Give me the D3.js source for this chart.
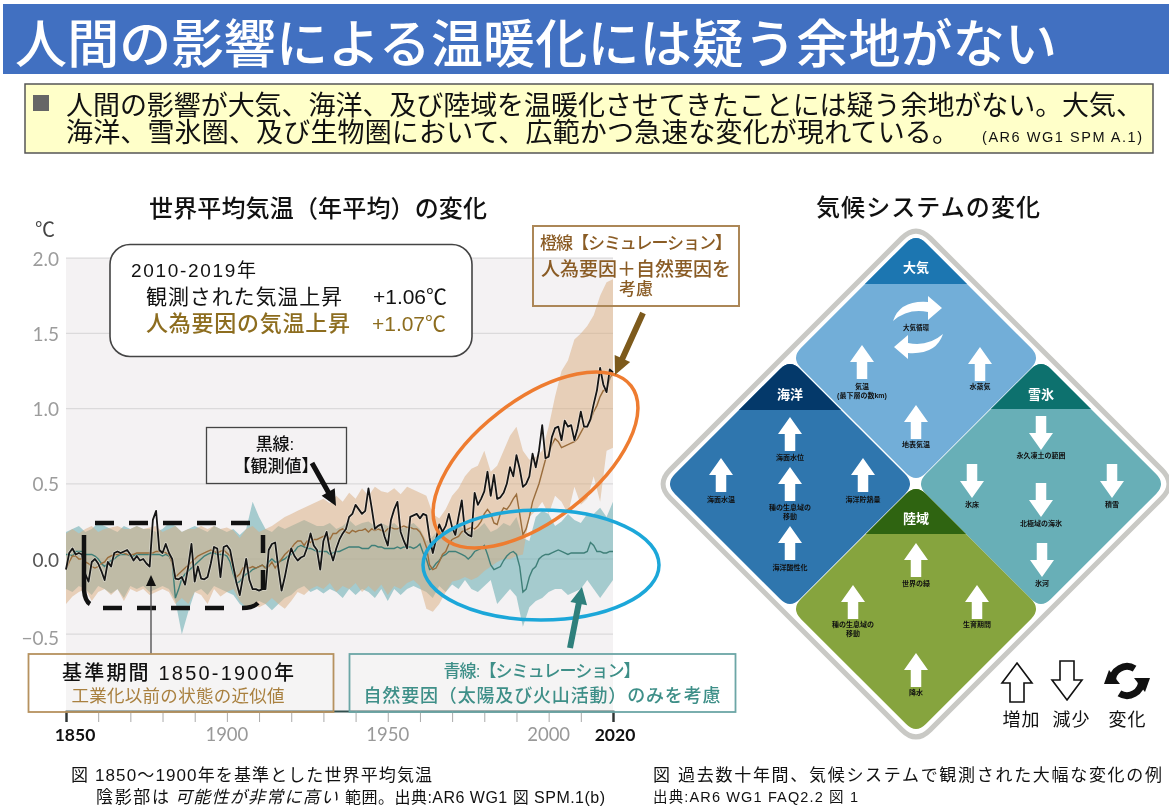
<!DOCTYPE html>
<html lang="ja"><head><meta charset="utf-8">
<script src="https://cdnjs.cloudflare.com/ajax/libs/d3/7.8.5/d3.min.js"></script>
<style>
html,body{margin:0;padding:0;background:#fff;overflow:hidden}
svg{display:block;filter:blur(.35px)}
text{font-family:"Liberation Sans","Noto Sans CJK JP",sans-serif}
</style></head><body><svg id="c" width="1169" height="807"></svg>
<script>
// ---- data ----
const yTicks=[2.0,1.5,1.0,0.5,0.0,-0.5];
const xTicksLabelled=[1850,1900,1950,2000,2020];
const lineStartYear=1850, bandStartYear=1850, bandStep=2;
const observed=[
-.07,.04,.07,.03,.04,.03,-.10,-.15,-.02,0,
-.03,-.08,-.14,-.02,-.05,.04,.05,.04,.05,.06,
.03,-.01,.02,-.01,0,-.03,-.05,.26,.32,.06,
.04,.10,.04,0,-.13,-.135,-.12,-.17,-.05,.10,
-.15,-.05,-.13,-.135,-.12,-.03,.08,.07,-.12,.08,
.09,.06,-.05,-.16,-.24,-.12,0,-.14,-.20,-.20,
-.21,-.20,-.20,.06,.10,.11,-.06,-.21,-.12,-.01,
.07,.02,-.01,.01,.02,.08,.17,.09,.06,-.07,
.12,.18,.06,-.01,.07,.13,.17,.20,.28,.30,
.36,.33,.30,.32,.47,.34,.20,.22,.23,.15,
.09,.26,.33,.38,.18,.12,.07,.28,.29,.30,
.27,.30,.29,.14,.04,.13,.23,.18,.22,.30,
.21,.16,.28,.39,.18,.16,.15,.44,.36,.40,
.45,.58,.42,.56,.40,.41,.44,.50,.61,.55,
.69,.60,.48,.50,.55,.70,.61,.72,.89,.67,
.68,.81,.87,.88,.79,.92,.88,.89,.79,.87,
.98,.88,.88,.93,1.03,1.12,1.27,1.16,1.11,1.26,
1.24];
const humanNatural=[
-.07,-.02,.02,.02,0,0,-.02,-.03,-.05,-.06,
-.05,-.03,-.02,.01,.02,.03,.03,.04,.04,.03,
.03,.03,.04,.04,.04,.04,.04,.04,.05,.05,
.05,.04,.03,-.03,-.12,-.1,-.08,-.06,-.04,-.02,
0,.02,.03,.04,.05,.06,.05,.04,.05,.06,
.04,.02,-.06,-.12,-.1,-.06,-.05,-.06,-.05,-.06,
-.05,-.04,-.06,-.05,-.02,-.06,-.03,0,.03,.05,
.07,.10,.12,.12,.09,.12,.11,.13,.13,.14,
.15,.16,.13,.17,.17,.19,.2,.18,.17,.19,
.18,.19,.19,.2,.18,.2,.19,.2,.19,.18,
.2,.21,.2,.2,.21,.22,.21,.21,.2,.2,
.18,.14,.08,-.04,-.07,-.06,-.02,.03,.05,.1,
.13,.14,.15,.18,.19,.2,.21,.2,.22,.25,
.3,.33,.3,.24,.23,.3,.34,.33,.36,.4,
.43,.3,.16,.2,.28,.38,.44,.5,.58,.66,
.7,.76,.8,.78,.74,.75,.76,.77,.78,.8,
.84,.88,.88,.92,.98,1.02,1.08,1.12,1.12,1.2,
1.24];
const naturalOnly=[
.03,.03,.02,.05,.05,.05,.03,.03,.03,.02,
0,-.03,-.05,-.03,-.01,0,.02,.03,.03,.03,
.02,.02,.03,.03,.03,.03,.03,.03,.03,.03,
.02,.03,.02,-.02,-.26,-.2,-.13,-.1,-.08,-.06,
-.04,-.02,0,.02,.03,.04,.04,.03,.03,.03,
.02,-.02,-.1,-.16,-.15,-.12,-.1,-.09,-.07,-.06,
-.05,-.04,-.06,-.02,0,-.02,-.02,-.01,0,.02,
.03,.05,.08,.09,.08,.07,.07,.06,.05,.05,
.05,.05,.03,.04,.05,.05,.06,.07,.08,.08,
.08,.08,.07,.07,.07,.09,.09,.08,.08,.07,
.07,.07,.07,.08,.07,.08,.08,.08,.07,.08,
.1,.04,0,-.07,-.06,-.03,-.01,.02,.03,.05,
.05,.05,.04,.03,.02,0,.02,.05,.06,.07,
.09,.03,-.04,-.07,-.06,-.05,-.01,.02,.04,.05,
.03,-.05,-.22,-.2,-.12,-.07,-.05,0,.02,.03,
.03,.04,.05,.06,.05,.04,.03,.04,.04,.04,
.04,.04,.05,.11,.09,.05,.05,.04,.04,.05,
.05];
const humanNaturalHigh=[
.17,.2,.17,.2,.22,.18,.2,.21,.22,.2,
.2,.22,.2,.21,.22,.18,.2,.22,.18,.2,
.2,.22,.2,.22,.2,.21,.19,.14,.2,.22,
.18,.2,.22,.25,.28,.3,.32,.34,.36,.38,
.4,.37,.42,.38,.44,.4,.47,.42,.48,.45,
.44,.47,.43,.48,.46,.44,.42,.3,.27,.33,
.42,.47,.55,.6,.62,.72,.58,.62,.72,.82,
.88,.72,.66,.68,.72,.88,1.08,1.25,1.32,1.46,
1.5,1.55,1.62,1.75,1.84,1.86];
const humanNaturalLow=[
-.3,-.25,-.22,-.2,-.28,-.22,-.2,-.24,-.2,-.28,
-.2,-.22,-.2,-.24,-.22,-.2,-.22,-.3,-.26,-.3,
-.22,-.24,-.3,-.2,-.25,-.22,-.2,-.28,-.32,-.3,
-.32,-.3,-.26,-.3,-.33,-.28,-.22,-.24,-.2,-.18,
-.2,-.16,-.22,-.18,-.2,-.16,-.22,-.18,-.22,-.17,
-.24,-.18,-.2,-.16,-.14,-.18,-.33,-.35,-.3,-.22,
-.15,-.14,-.12,-.14,-.12,-.08,-.05,-.02,0,0,
.02,.03,.28,.32,.38,.3,.42,.38,.3,.48,
.36,.4,.55,.38,.72,.74];
const naturalHigh=[
.18,.2,.22,.18,.2,.24,.22,.2,.18,.22,
.2,.22,.2,.2,.18,.2,.24,.22,.18,.2,
.22,.2,.18,.22,.2,.18,.2,.16,.2,.38,
.28,.2,.18,.22,.2,.22,.24,.26,.24,.22,
.22,.24,.2,.22,.26,.22,.24,.25,.22,.24,
.22,.24,.2,.22,.24,.2,.12,.15,.2,.18,
.2,.22,.2,.18,.2,.24,.18,.2,.24,.22,
.28,.14,.12,.28,.32,.3,.22,.25,.3,.26,
.24,.3,.3,.34,.28,.38];
const naturalLow=[
-.2,-.22,-.18,-.2,-.24,-.18,-.2,-.23,-.2,-.26,
-.18,-.2,-.18,-.22,-.2,-.18,-.2,-.28,-.5,-.35,
-.22,-.2,-.24,-.18,-.2,-.22,-.24,-.3,-.33,-.3,
-.28,-.3,-.34,-.3,-.26,-.24,-.2,-.18,-.22,-.2,
-.23,-.2,-.22,-.26,-.2,-.24,-.2,-.22,-.26,-.2,
-.28,-.2,-.24,-.2,-.18,-.2,-.22,-.26,-.18,-.22,
-.17,-.2,-.14,-.2,-.22,-.18,-.14,-.3,-.25,-.2,
-.25,-.45,-.32,-.28,-.26,-.22,-.2,-.2,-.24,-.22,
-.2,-.14,-.2,-.26,-.2,-.14];
const domains=["大気","海洋","雪氷","陸域"];
const atmosphereItems=["大気循環","気温","水蒸気","地表気温"];
const oceanItems=["海面水位","海面水温","海洋貯熱量","種の生息域の移動","海洋酸性化"];
const cryosphereItems=["永久凍土の範囲","氷床","積雪","北極域の海氷","氷河"];
const landItems=["世界の緑","種の生息域の移動","生育期間","降水"];

// ---- helpers ----
const svg=d3.select("#c");
const x=d3.scaleLinear().domain([1850,2020]).range([66,613]);
const y=d3.scaleLinear().domain([0,1]).range([559,408.6]);
function txt(s,px,py,size,o={}){
  const t=svg.append("text").attr("x",px).attr("y",py).attr("font-size",size)
   .attr("fill",o.fill||"#111").attr("text-anchor",o.anchor||"start")
   .attr("dominant-baseline","central").text(s);
  if(o.weight)t.attr("font-weight",o.weight);
  if(o.len)t.attr("textLength",o.len).attr("lengthAdjust","spacing");
  if(o.family)t.style("font-family",o.family);
  return t;
}
function fatArrow(x1,y1,x2,y2,w,hw,hl,fill,sel=svg){
  const a=Math.atan2(y2-y1,x2-x1),L=Math.hypot(x2-x1,y2-y1);
  const pts=[[0,-w/2],[L-hl,-w/2],[L-hl,-hw/2],[L,0],[L-hl,hw/2],[L-hl,w/2],[0,w/2]];
  return sel.append("polygon").attr("transform",`translate(${x1},${y1}) rotate(${a*180/Math.PI})`)
   .attr("points",pts.join(" ")).attr("fill",fill);
}
function roundDiamond(cx,cy,R,d){
  const k=d/Math.SQRT2;
  return `M${cx-k},${cy-R+k}Q${cx},${cy-R} ${cx+k},${cy-R+k}L${cx+R-k},${cy-k}Q${cx+R},${cy} ${cx+R-k},${cy+k}`+
   `L${cx+k},${cy+R-k}Q${cx},${cy+R} ${cx-k},${cy+R-k}L${cx-R+k},${cy+k}Q${cx-R},${cy} ${cx-R+k},${cy-k}Z`;
}

// ---- banner ----
svg.append("rect").attr("x",3).attr("y",4).attr("width",1166).attr("height",70).attr("fill","#4170c1");
txt("人間の影響による温暖化には疑う余地がない",15,45,52,{fill:"#fff",weight:500,len:1042});
svg.append("rect").attr("x",25).attr("y",84).attr("width",1128).attr("height",69)
 .attr("fill","#ffffc9").attr("stroke","#555").attr("stroke-width",1.5);
svg.append("rect").attr("x",33).attr("y",95).attr("width",16).attr("height",16).attr("fill","#666");
txt("人間の影響が大気、海洋、及び陸域を温暖化させてきたことには疑う余地がない。大気、",66,106,27,{len:1077});
txt("海洋、雪氷圏、及び生物圏において、広範かつ急速な変化が現れている。",66,133,27,{len:893});
txt("(AR6 WG1 SPM A.1)",982,137,14.5,{len:160});

// ---- chart titles ----
txt("世界平均気温（年平均）の変化",149,208,24,{len:338,weight:500});
txt("気候システムの変化",816,207,24,{len:224,weight:500});
txt("℃",35,230,20,{fill:"#444"});

// ---- chart ----
svg.append("rect").attr("x",x(1850)).attr("y",y(2)).attr("width",x(2020)-x(1850)).attr("height",711-y(2)).attr("fill","#f4f2f3");
svg.append("g").selectAll("line").data(yTicks).join("line")
 .attr("x1",x(1850)).attr("x2",x(2020)).attr("y1",y).attr("y2",y).attr("stroke","#dbdadb").attr("stroke-width",1.2);
svg.append("g").selectAll("text").data(yTicks).join("text")
 .attr("x",59).attr("y",d=>y(d)+(d<0?3:0)).attr("text-anchor","end").attr("dominant-baseline","central")
 .attr("font-size",19).attr("fill",d=>d===0?"#555":"#9c9c9c")
 .style("font-family","Lato,sans-serif").text(d=>d<0?"−"+Math.abs(d).toFixed(1):d.toFixed(1));

const bandYears=d3.range(humanNaturalHigh.length).map(i=>bandStartYear+i*bandStep);
const area=(hi,lo)=>d3.area().x((d,i)=>x(bandYears[i])).y0((d,i)=>y(lo[i])).y1((d,i)=>y(hi[i])).curve(d3.curveLinear)(hi);
svg.append("path").attr("d",area(naturalHigh,naturalLow)).attr("fill","#56a4a9").attr("fill-opacity",.5);
svg.append("path").attr("d",area(humanNaturalHigh,humanNaturalLow)).attr("fill","#d9ab7e").attr("fill-opacity",.5);
const lineOf=arr=>d3.line().x((d,i)=>x(lineStartYear+i)).y(d=>y(d))(arr);
svg.append("path").attr("d",lineOf(naturalOnly)).attr("fill","none").attr("stroke","#3f7f78").attr("stroke-width",1.4);
svg.append("path").attr("d",lineOf(humanNatural)).attr("fill","none").attr("stroke","#9a6d3c").attr("stroke-width",1.4);
svg.append("path").attr("d",lineOf(observed)).attr("fill","none").attr("stroke","#fff").attr("stroke-opacity",.4).attr("stroke-width",3.4).attr("stroke-linejoin","round");
svg.append("path").attr("d",lineOf(observed)).attr("fill","none").attr("stroke","#151515").attr("stroke-width",1.8).attr("stroke-linejoin","round");

// axis
const axisG=svg.append("g").attr("transform","translate(0,711)").call(d3.axisBottom(x).tickValues(d3.range(1850,2021,10)).tickSize(11).tickFormat(""));
axisG.select(".domain").attr("stroke","#33504f").attr("stroke-width",2);
axisG.selectAll(".tick line").attr("stroke",d=>(d===1850||d===2020)?"#333":"#aaa").attr("stroke-width",d=>(d===1850||d===2020)?2:1);
svg.append("g").selectAll("text").data(xTicksLabelled).join("text")
 .attr("x",d=>x(d)+(d===1850?9:d===2020?2:0)).attr("y",734).attr("text-anchor","middle").attr("dominant-baseline","central")
 .attr("font-size",d=>(d===1850||d===2020)?17.5:18.5).attr("font-weight",d=>(d===1850||d===2020)?700:400)
 .attr("fill",d=>(d===1850||d===2020)?"#111":"#999").style("font-family","Lato,sans-serif").text(d=>d);

// baseline period frame
const frame=svg.append("g").attr("fill","none").attr("stroke","#111").attr("stroke-width",4.5);
frame.append("path").attr("d","M95,523L250,523").attr("stroke-dasharray","19 15");
frame.append("path").attr("d","M103,608L224,608").attr("stroke-dasharray","19 15");
frame.append("path").attr("d","M242,608Q253,608 258,603");
frame.append("path").attr("d","M84,535L84,590Q85,601 90,604");
frame.append("path").attr("d","M263,535L263,553M263,570L263,590");
svg.append("ellipse").attr("cx",535.5).attr("cy",460).attr("rx",121).attr("ry",60).attr("transform","rotate(-37.8 535.5 460)")
 .attr("fill","none").attr("stroke","#ee7c30").attr("stroke-width",3.5);
svg.append("ellipse").attr("cx",541).attr("cy",565).attr("rx",118).attr("ry",55)
 .attr("fill","none").attr("stroke","#1ca7d9").attr("stroke-width",3.5);

// summary box
svg.append("rect").attr("x",110).attr("y",244.5).attr("width",362).attr("height",112).attr("rx",20)
 .attr("fill","#fff").attr("stroke","#444").attr("stroke-width",1.6);
txt("2010-2019年",131,270,19,{len:125});
txt("観測された気温上昇",146,296,21,{len:196});
txt("+1.06℃",373,296,21,{len:74});
txt("人為要因の気温上昇",146,323,22,{fill:"#8d6d1f",len:204,weight:500});
txt("+1.07℃",372,323,21,{fill:"#8d6d1f",len:74});

// observed callout
svg.append("rect").attr("x",206.5).attr("y",427.5).attr("width",140).attr("height",56).attr("fill","#f4f2f3").attr("stroke","#444").attr("stroke-width",1.3);
txt("黒線:",275,444,17,{anchor:"middle",weight:500});
txt("【観測値】",276,466,17,{anchor:"middle",weight:500});
fatArrow(312,463,336,506,5,15,16,"#111");

// simulation callout
svg.append("rect").attr("x",533).attr("y",226).attr("width",206).attr("height",80).attr("fill","none").attr("stroke","#ac8757").attr("stroke-width",2);
txt("橙線【シミュレーション】",636,243,17,{anchor:"middle",fill:"#8a5c25",weight:500,len:192});
txt("人為要因＋自然要因を",636,269,19,{anchor:"middle",fill:"#8a5c25",weight:500,len:190});
txt("考慮",636,289,17,{anchor:"middle",fill:"#8a5c25",weight:500});
fatArrow(643,313,615,375,6,17,18,"#7d5a1c");
fatArrow(570,648,582,587,6,17,17,"#2f807c");

// baseline callout
svg.append("line").attr("x1",151).attr("x2",151).attr("y1",654).attr("y2",584).attr("stroke","#555").attr("stroke-width",1.4);
svg.append("polygon").attr("points","151,575 146,586 156,586").attr("fill","#111");
svg.append("rect").attr("x",28.5).attr("y",654).attr("width",305).attr("height",58).attr("fill","#fff").attr("fill-opacity",.15).attr("stroke","#b6925f").attr("stroke-width",1.8);
txt("基準期間  1850-1900年",178,673,20,{anchor:"middle",len:232,weight:500});
txt("工業化以前の状態の近似値",178,696,17.5,{anchor:"middle",fill:"#a9803f",len:213});
svg.append("rect").attr("x",349.5).attr("y",654).attr("width",386).attr("height",58).attr("fill","#fff").attr("fill-opacity",.15).attr("stroke","#6ca6a6").attr("stroke-width",1.8);
txt("青線:【シミュレーション】",542,671,17,{anchor:"middle",fill:"#3e8f88",len:197,weight:500});
txt("自然要因（太陽及び火山活動）のみを考慮",542,696,18,{anchor:"middle",fill:"#3e8f88",len:357,weight:500});

// captions
txt("図 1850～1900年を基準とした世界平均気温",71,775,17,{len:361});
txt("陰影部は",96,797,17,{len:73});
txt("可能性が非常に高い",175,797,17,{len:163}).style("font-style","italic");
txt("範囲。出典:AR6 WG1 図 SPM.1(b)",345,797,16,{len:260});
txt("図 過去数十年間、気候システムで観測された大幅な変化の例",653,775,17,{len:509});
txt("出典:AR6 WG1 FAQ2.2 図 1",653,797,14.5,{len:205});

// ---- climate diamond ----
svg.append("path").attr("d",roundDiamond(916,484,260,20)).attr("fill","none").attr("stroke","#c9c9c5").attr("stroke-width",5);
const defs=svg.append("defs");
const panelLayout=[
 {name:domains[0],cx:916,cy:358,band:284,dark:"#1c76b1",light:"#72aed8",ty:267},
 {name:domains[1],cx:790,cy:484,band:410,dark:"#04396a",light:"#2f76ae",ty:394},
 {name:domains[2],cx:1041,cy:484,band:409,dark:"#0d716e",light:"#68afb7",ty:394},
 {name:domains[3],cx:916,cy:609,band:534,dark:"#2f6411",light:"#86a43e",ty:518}];
panelLayout.forEach((p,i)=>{
  const d=roundDiamond(p.cx,p.cy,125,14);
  defs.append("clipPath").attr("id","cp"+i).append("path").attr("d",d);
  svg.append("path").attr("d",d).attr("fill",p.light);
  svg.append("rect").attr("x",p.cx-130).attr("y",p.cy-130).attr("width",260).attr("height",p.band-p.cy+130).attr("fill",p.dark).attr("clip-path",`url(#cp${i})`);
  txt(p.name,p.cx,p.ty,13,{fill:"#fff",anchor:"middle",weight:700});
});
function item(ax,top,up,labels,ly){
  if(up) fatArrow(ax,top+34,ax,top,10.5,24,17,"#fff"); else fatArrow(ax,top,ax,top+34,10.5,24,17,"#fff");
  labels.forEach((s,i)=>txt(s,ax,ly+i*9.5,7,{anchor:"middle",weight:700}));
}
// atmosphere
const cyc=svg.append("g");
const cycPath="M893,321Q900,300 928,302L928,296L942,308L928,320L928,312Q908,308 893,321Z";
cyc.append("path").attr("d",cycPath).attr("fill","#fff");
cyc.append("path").attr("d",cycPath).attr("fill","#fff").attr("transform","rotate(180 918 327.5)");
txt(atmosphereItems[0],916,327,6.5,{anchor:"middle",weight:700});
item(862,345,true,[atmosphereItems[1],"(最下層の数km)"],386);
item(980,347,true,[atmosphereItems[2]],386);
item(916,405,true,[atmosphereItems[3]],444);
// ocean
item(790,417,true,[oceanItems[0]],457);
item(721,458,true,[oceanItems[1]],499);
item(863,458,true,[oceanItems[2]],499);
item(790,467,true,["種の生息域の","移動"],507);
item(790,526,true,[oceanItems[4]],567);
// cryosphere
item(1041,416,false,[cryosphereItems[0]],455);
item(972,464,false,[cryosphereItems[1]],504);
item(1112,464,false,[cryosphereItems[2]],504);
item(1041,483,false,[cryosphereItems[3]],523);
item(1042,543,false,[cryosphereItems[4]],583);
// land
item(916,543,true,[landItems[0]],583);
item(853,585,true,["種の生息域の","移動"],624);
item(977,585,true,[landItems[2]],624);
item(916,653,true,[landItems[3]],692);

// legend
const outlinePts=(cx,top,up)=>{
  const s=up?1:-1,t=up?top:top+39;
  return [[0,0],[15,20],[7,20],[7,39],[-7,39],[-7,20],[-15,20]].map(p=>[cx+p[0],t+s*p[1]]).join(" ");
};
svg.append("polygon").attr("points",outlinePts(1017,663,true)).attr("fill","#fff").attr("stroke","#111").attr("stroke-width",1.6);
svg.append("polygon").attr("points",outlinePts(1067,661,false)).attr("fill","#fff").attr("stroke","#111").attr("stroke-width",1.6);
const ci=svg.append("g").attr("transform","translate(1127,681)");
[0,180].forEach(r=>{
  const g=ci.append("g").attr("transform",`rotate(${r})`);
  g.append("path").attr("d",d3.arc().innerRadius(11).outerRadius(18).startAngle(-1.6).endAngle(.55)()).attr("fill","#111");
  g.append("polygon").attr("points","7,-3 23,-3 18,11").attr("fill","#111");
});
txt("増加",1021,720,18,{anchor:"middle",len:37});
txt("減少",1071,720,18,{anchor:"middle",len:37});
txt("変化",1127,720,18,{anchor:"middle",len:37});
</script></body></html>
